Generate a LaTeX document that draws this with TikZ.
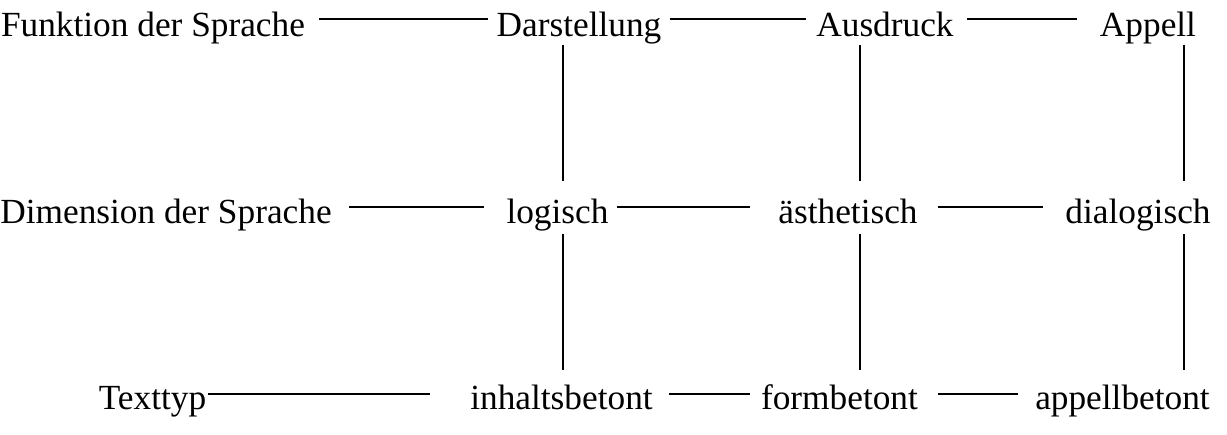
\documentclass[tikz,border=0pt]{standalone}
\usepackage{fontspec}
\setmainfont{Liberation Serif}
\usetikzlibrary{calc}

\begin{document}
\begin{tikzpicture}[x=1pt,y=-1pt,
	lbl/.style={anchor=base,inner sep=0pt,text height=33.5pt,text depth=1.5pt,
		font=\fontsize{35.3}{42}\selectfont},
	link/.style={line width=1.6pt}]
	\useasboundingbox (0,0) rectangle (1227,435);
	% Spalten der senkrechten Linien
	\coordinate (c1) at (563,0);
	\coordinate (c2) at (860,0);
	\coordinate (c3) at (1184,0);
	% Zeile 1
	\node[lbl] (fkt) at (153,36.7) {Funktion der Sprache};
	\node[lbl] (dar) at (579,36.7) {Darstellung};
	\node[lbl] (aus) at (885,36.7) {Ausdruck};
	\node[lbl] (app) at (1148,36.7) {Appell};
	% Zeile 2
	\node[lbl] (dim) at (166,223.3) {Dimension der Sprache};
	\node[lbl] (log) at (557.5,223.3) {logisch};
	\node[lbl] (aes) at (848,223.3) {ästhetisch};
	\node[lbl] (dia) at (1138,223.3) {dialogisch};
	% Zeile 3
	\node[lbl] (typ) at (152.5,410) {Texttyp};
	\node[lbl] (inh) at (561.5,410) {inhaltsbetont};
	\node[lbl] (frm) at (839.5,410) {formbetont};
	\node[lbl] (apb) at (1122.5,410) {appellbetont};
	% waagrecht
	\draw[link,shorten <=14pt,shorten >=8pt] ([yshift=1.5pt]fkt.east) -- ([yshift=1.5pt]dar.west);
	\draw[link,shorten <=8pt,shorten >=10pt] ([yshift=1.5pt]dar.east) -- ([yshift=1.5pt]aus.west);
	\draw[link,shorten <=13pt,shorten >=23pt] ([yshift=1.5pt]aus.east) -- ([yshift=1.5pt]app.west);
	\draw[link,shorten <=17pt,shorten >=22pt] (dim.east) -- (log.west);
	\draw[link,shorten <=8pt,shorten >=28pt] (log.east) -- (aes.west);
	\draw[link,shorten <=20pt,shorten >=22pt] (aes.east) -- (dia.west);
	\draw[link,shorten <=2pt,shorten >=40pt] (typ.east) -- (inh.west);
	\draw[link,shorten <=16pt,shorten >=11pt] (inh.east) -- (frm.west);
	\draw[link,shorten <=20pt,shorten >=17pt] (frm.east) -- (apb.west);
	% senkrecht
	\draw[link,shorten <=6.5pt,shorten >=9pt] (dar.south -| c1) -- (log.north -| c1);
	\draw[link,shorten <=6.5pt,shorten >=9pt] (aus.south -| c2) -- (aes.north -| c2);
	\draw[link,shorten <=6.5pt,shorten >=9pt] (app.south -| c3) -- (dia.north -| c3);
	\draw[link,shorten <=9pt,shorten >=6.5pt] (log.south -| c1) -- (inh.north -| c1);
	\draw[link,shorten <=9pt,shorten >=6.5pt] (aes.south -| c2) -- (frm.north -| c2);
	\draw[link,shorten <=9pt,shorten >=6.5pt] (dia.south -| c3) -- (apb.north -| c3);
\end{tikzpicture}
\end{document}
